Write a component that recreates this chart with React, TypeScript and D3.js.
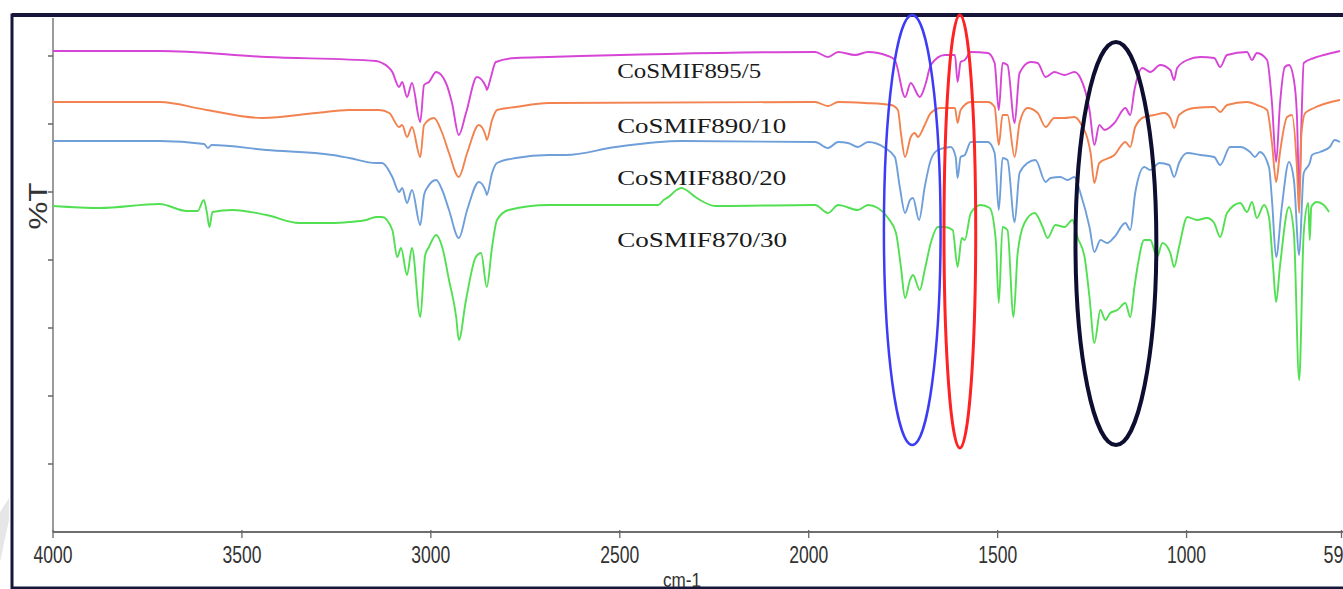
import React from "react";
import * as d3 from "d3";

// FT-IR spectra (%T, arbitrary offset units) vs wavenumber (cm-1)
const seriesNames = ["CoSMIF895/5", "CoSMIF890/10", "CoSMIF880/20", "CoSMIF870/30"];
const seriesColors = ["#d645d6", "#f2824f", "#6f9fd9", "#52e052"];

const cosmif895: [number, number][] = [[4000,48.1],[3718,48.1],[3435,47.5],[3145,47.1],[3129,46.9],[3102,46.0],[3084,44.5],[3076,45.0],[3063,43.5],[3050,44.9],[3028,41.0],[3018,44.7],[3005,45.0],[2986,46.0],[2960,44.9],[2944,42.9],[2926,39.7],[2907,41.9],[2878,45.5],[2854,44.5],[2852,44.2],[2841,45.5],[2828,47.0],[2775,47.4],[2688,47.5],[1983,48.0],[1949,47.5],[1922,48.0],[1877,47.7],[1843,48.0],[1790,47.6],[1772,47.2],[1745,43.5],[1730,44.9],[1706,43.5],[1690,44.9],[1677,46.7],[1640,47.7],[1613,47.7],[1606,45.0],[1598,47.0],[1587,47.2],[1571,48.0],[1526,47.9],[1508,46.9],[1497,42.2],[1487,46.9],[1474,46.7],[1455,40.9],[1442,45.9],[1413,47.0],[1394,46.9],[1373,45.5],[1350,46.0],[1323,45.7],[1297,46.0],[1281,45.4],[1257,42.2],[1244,38.7],[1231,40.7],[1217,40.2],[1191,40.9],[1162,42.4],[1149,41.7],[1138,44.2],[1117,46.4],[1096,46.0],[1070,46.7],[1043,46.2],[1033,45.2],[1025,46.4],[998,47.2],[964,47.5],[927,47.4],[911,46.5],[893,47.7],[840,48.0],[827,47.2],[814,47.9],[787,47.2],[774,42.9],[763,37.0],[753,42.7],[740,46.5],[729,46.7],[716,45.2],[708,41.7],[702,33.9],[696,41.0],[690,46.9],[663,47.4],[637,47.7],[594,48.1]];

const cosmif890: [number, number][] = [[4000,43.0],[3718,43.0],[3593,42.2],[3446,41.4],[3303,41.9],[3216,42.2],[3137,42.2],[3110,41.9],[3084,40.5],[3076,40.7],[3063,39.5],[3050,40.5],[3028,37.5],[3018,40.7],[2992,41.4],[2970,39.9],[2952,37.9],[2926,35.5],[2904,37.9],[2873,40.7],[2854,39.5],[2852,39.2],[2838,41.2],[2825,42.2],[2775,42.5],[2688,42.9],[1983,43.0],[1949,42.6],[1922,43.0],[1851,42.9],[1782,42.7],[1764,42.2],[1756,39.9],[1745,37.5],[1730,39.5],[1719,39.9],[1711,39.5],[1693,40.7],[1677,41.9],[1650,42.4],[1613,42.4],[1606,40.9],[1598,42.2],[1571,43.0],[1526,43.0],[1508,42.5],[1497,38.7],[1487,41.7],[1474,41.7],[1455,37.5],[1442,40.9],[1421,42.4],[1394,41.9],[1373,40.5],[1350,41.4],[1323,41.4],[1297,41.5],[1281,40.9],[1254,37.9],[1244,34.9],[1231,36.9],[1191,37.7],[1162,39.0],[1149,38.5],[1136,40.5],[1112,41.5],[1085,41.7],[1059,41.9],[1043,41.4],[1033,40.4],[1020,41.7],[980,42.4],[927,42.5],[911,42.0],[893,42.7],[840,43.0],[814,42.7],[787,42.2],[774,38.9],[763,35.0],[753,37.9],[734,41.5],[721,41.7],[708,36.5],[702,31.9],[696,39.9],[686,41.9],[663,42.4],[594,43.2]];

const cosmif880: [number, number][] = [[4000,39.1],[3718,39.1],[3600,38.8],[3590,38.4],[3580,38.7],[3435,38.2],[3261,37.7],[3216,37.4],[3145,36.9],[3129,36.9],[3102,35.5],[3084,34.0],[3076,34.4],[3063,32.9],[3050,34.2],[3028,30.7],[3018,33.7],[3010,34.4],[2986,35.2],[2970,34.2],[2952,32.2],[2926,29.4],[2904,32.2],[2873,35.0],[2854,34.0],[2852,33.7],[2838,35.9],[2825,36.9],[2775,37.4],[2688,37.7],[2643,37.7],[2511,38.5],[2337,39.1],[1983,39.0],[1949,38.4],[1922,39.0],[1896,38.9],[1870,38.5],[1843,39.0],[1798,38.4],[1772,37.5],[1759,34.5],[1745,31.9],[1732,33.2],[1724,33.4],[1708,31.2],[1693,34.5],[1677,37.2],[1658,38.2],[1624,38.5],[1611,37.5],[1606,35.4],[1598,37.5],[1587,37.7],[1571,39.0],[1526,39.0],[1508,37.9],[1497,32.2],[1487,37.4],[1474,37.2],[1455,31.0],[1442,35.9],[1421,36.9],[1400,37.2],[1373,35.0],[1360,35.4],[1334,35.5],[1315,35.2],[1297,35.5],[1281,33.9],[1257,30.5],[1244,28.0],[1228,29.2],[1210,28.9],[1191,29.5],[1162,30.9],[1149,30.2],[1136,33.9],[1112,36.5],[1096,36.2],[1072,36.9],[1046,36.7],[1033,35.5],[1020,36.9],[998,37.9],[964,37.7],[927,37.5],[911,36.7],[885,38.5],[858,38.5],[832,38.0],[819,37.5],[806,38.0],[782,36.5],[774,33.2],[763,27.5],[748,32.5],[729,37.0],[716,35.2],[702,27.7],[690,35.9],[674,36.9],[668,37.7],[647,38.0],[621,38.5],[608,39.2],[594,39.0]];

const cosmif870: [number, number][] = [[4000,32.6],[3876,32.4],[3718,32.8],[3646,32.1],[3617,32.1],[3601,33.2],[3593,32.0],[3586,30.5],[3578,32.0],[3525,32.2],[3435,31.7],[3348,30.9],[3261,30.9],[3216,31.0],[3171,31.2],[3145,31.5],[3129,31.5],[3102,30.2],[3089,27.5],[3079,28.4],[3063,25.7],[3050,28.4],[3028,21.5],[3015,27.7],[3005,28.5],[2986,29.7],[2970,28.5],[2952,25.2],[2933,21.5],[2926,19.2],[2907,23.2],[2881,27.5],[2867,27.9],[2852,24.5],[2838,28.5],[2825,31.2],[2794,32.2],[2688,32.7],[2398,32.7],[2384,33.2],[2371,33.5],[2350,34.2],[2337,34.4],[2324,34.2],[2300,33.5],[2273,32.9],[2247,32.6],[1983,32.7],[1949,31.9],[1922,32.7],[1870,32.2],[1843,32.7],[1817,32.4],[1790,31.4],[1769,29.9],[1756,26.5],[1745,23.4],[1732,25.2],[1724,25.7],[1706,24.2],[1693,26.2],[1677,28.9],[1658,30.5],[1640,30.5],[1619,30.2],[1606,26.5],[1595,29.4],[1587,29.2],[1571,31.9],[1545,32.7],[1521,32.4],[1505,29.2],[1497,22.9],[1487,30.5],[1474,30.2],[1458,21.5],[1447,27.9],[1429,30.9],[1402,31.9],[1381,30.5],[1368,29.4],[1347,30.7],[1323,30.5],[1302,31.2],[1289,29.5],[1270,27.5],[1257,23.5],[1244,18.9],[1228,22.2],[1215,21.2],[1202,21.9],[1183,22.2],[1162,22.9],[1149,21.5],[1138,24.5],[1130,26.5],[1112,29.2],[1096,29.2],[1078,27.5],[1064,28.9],[1043,27.9],[1033,26.5],[1020,28.5],[998,31.5],[972,31.2],[946,31.4],[927,30.9],[911,29.5],[893,31.9],[858,32.9],[840,32.0],[827,33.0],[814,31.4],[795,32.7],[782,31.5],[771,26.5],[763,23.0],[753,26.5],[729,32.5],[716,29.9],[702,15.2],[690,29.9],[678,32.9],[674,29.2],[670,32.5],[655,33.0],[637,32.7],[623,32.0]];

const seriesData = [cosmif895, cosmif890, cosmif880, cosmif870];

const xTickValues = [4000, 3500, 3000, 2500, 2000, 1500, 1000, 590];
const yTickValues = [6.8, 13.6, 20.4, 27.2, 34.0, 40.8, 47.6];

// highlighted bands: [center cm-1, half-width cm-1, center %T, half-height %T]
const bandEllipses: [number, number, number, number][] = [
  [1726, 75, 30.2, 21.5],
  [1600, 42, 30.05, 21.65],
  [1187, 107, 28.85, 20.15],
];
const ellipseColors = ["#3c3cf6", "#ff2222", "#0e0e30"];
const ellipseWidths = [2.5, 3, 4];

// label anchors: [cm-1 at text start, %T at baseline]
const labelAnchors: [number, number][] = [[2507, 45.4], [2507, 39.9], [2507, 34.7], [2507, 28.5]];
const labelWidths = [144, 169, 169, 170];

export default function App() {
  const W = 1343, H = 589;
  const x = d3.scaleLinear().domain([4000, 590]).range([53, 1341.5]);
  const y = d3.scaleLinear().domain([0, 51.4]).range([532, 18]);
  const line = d3.line<[number, number]>()
    .x(d => x(d[0]))
    .y(d => y(d[1]))
    .curve(d3.curveMonotoneX);

  return (
    <svg width={W} height={H} style={{ position: "absolute", left: 0, top: 0, background: "#fff" }}>
      <rect x={0} y={0} width={W} height={H} fill="#fff" />
      {/* faint watermark stroke */}
      <polygon points="0,512 9,498 9,520 0,562" fill="#e6e6e6" />
      {/* frame */}
      <rect x={12} y={15} width={1400} height={573} fill="none" stroke="#16163a" strokeWidth={3} />
      <line x1={12} x2={W} y1={15} y2={15} stroke="#16163a" strokeWidth={4} />

      {/* axes */}
      <line x1={x(4000)} x2={x(4000)} y1={y(51.4)} y2={y(0)} stroke="#7a7a7a" strokeWidth={1.5} />
      <line x1={x(4000)} x2={W} y1={y(0)} y2={y(0)} stroke="#6e6e6e" strokeWidth={2} />
      {yTickValues.map((t, i) => (
        <line key={"yt" + i} x1={x(4000) - 5} x2={x(4000)} y1={y(t)} y2={y(t)} stroke="#666" strokeWidth={1.5} />
      ))}
      {xTickValues.map((t, i) => (
        <g key={"xt" + i}>
          <line x1={x(t)} x2={x(t)} y1={y(0) - 2} y2={y(0) + 6} stroke="#666" strokeWidth={1.3} />
          <text x={t >= 1000 ? x(t) : x(t) - 3} y={563} textAnchor="middle" fontFamily="Liberation Sans, Arial, sans-serif"
            fontSize={24} fill="#333" textLength={t >= 1000 ? 39 : 30} lengthAdjust="spacingAndGlyphs">{t}</text>
        </g>
      ))}
      <text x={682} y={587} textAnchor="middle" fontFamily="Liberation Sans, Arial, sans-serif" fontSize={21}
        fill="#333" textLength={38} lengthAdjust="spacingAndGlyphs">cm-1</text>
      <text transform="translate(47,206) rotate(-90)" textAnchor="middle" fontFamily="Liberation Sans, Arial, sans-serif"
        fontSize={25} fill="#333" textLength={47} lengthAdjust="spacingAndGlyphs">%T</text>

      {/* spectra */}
      {seriesData.map((s, i) => (
        <path key={"s" + i} d={line(s) || ""} fill="none" stroke={seriesColors[i]} strokeWidth={1.9} strokeLinejoin="round" />
      ))}

      {/* labels */}
      {seriesNames.map((n, i) => (
        <text key={"l" + i} x={x(labelAnchors[i][0])} y={y(labelAnchors[i][1])} fontFamily="Liberation Serif, 'Times New Roman', serif"
          fontSize={21} fill="#1a1a1a" textLength={labelWidths[i]} lengthAdjust="spacingAndGlyphs">{n}</text>
      ))}

      {/* highlight ellipses */}
      {bandEllipses.map((e, i) => (
        <ellipse key={"e" + i} cx={x(e[0])} cy={y(e[2])}
          rx={Math.abs(x(e[0] + e[1]) - x(e[0]))} ry={Math.abs(y(e[2] + e[3]) - y(e[2]))}
          fill="none" stroke={ellipseColors[i]} strokeWidth={ellipseWidths[i]} />
      ))}
    </svg>
  );
}
